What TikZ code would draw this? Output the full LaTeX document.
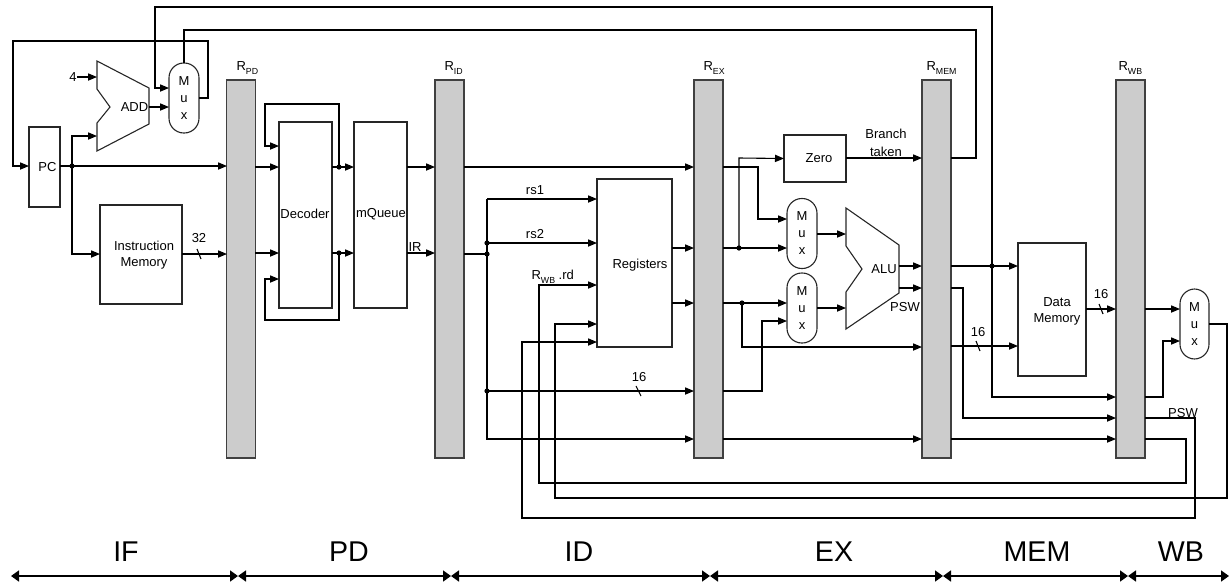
\documentclass[tikz,border=0pt]{standalone}
\usepackage{fontspec}
\setmainfont{Liberation Sans}
\usetikzlibrary{arrows.meta,calc}
\newcommand{\Rsub}[1]{R\raisebox{-2.4pt}{\fontsize{4.4}{5}\selectfont #1}}
\begin{document}
\begin{tikzpicture}[x=0.5pt,y=-0.5pt,
  every path/.style={line width=0.55pt},
  arr/.style={-{Triangle[length=4.5pt,width=3.6pt]}},
  box/.style={draw=black!85, line width=0.55pt, inner sep=0pt, outer sep=0pt},
  bar/.style={draw=black!75, fill=black!20, line width=0.55pt, minimum width=14.5pt, minimum height=189pt, inner sep=0pt, outer sep=0pt},
  mux/.style={box, rounded corners=7.4pt, minimum width=15pt, minimum height=35pt, align=center, font=\fontsize{6.5}{8.5}\selectfont},
  lbl/.style={font=\fontsize{6.5}{8}\selectfont, inner sep=0pt, align=center},
  rlbl/.style={font=\fontsize{6.5}{8}\selectfont, inner sep=0pt, anchor=base west},
  stage/.style={font=\fontsize{14.3}{16}\selectfont, inner sep=0pt},
  dot/.style={circle, fill=black, inner sep=0pt, minimum size=2.6pt},
  stagearr/.style={line width=0.8pt, {Triangle[length=4pt,width=5.5pt]}-{Triangle[length=4pt,width=5.5pt]}}
]
\useasboundingbox (0,0) rectangle (1232,585);

% ---------- pipeline registers ----------
\node[bar] (rpd)  at (241,269) {};
\node[bar] (rid)  at (449.5,269) {};
\node[bar] (rex)  at (708.5,269) {};
\node[bar] (rmem) at (936.5,269) {};
\node[bar] (rwb)  at (1130.5,269) {};
\node[rlbl] (lpd)  at (236,70)  {\Rsub{PD}};
\node[rlbl] (lid)  at (444,70)  {\Rsub{ID}};
\node[rlbl] (lex)  at (703,70)  {\Rsub{EX}};
\node[rlbl] (lmem) at (926,70)  {\Rsub{MEM}};
\node[rlbl] (lwb)  at (1118,70) {\Rsub{WB}};

% ---------- blocks ----------
\node[box, minimum width=15.5pt, minimum height=40pt] (pc) at (44.5,167) {};
\node[lbl] (pct) at (47.5,167) {PC};
\node[box, minimum width=41pt, minimum height=49.5pt] (im) at (141,254.5) {};
\node[lbl] (imt) at (144,255) {Instruction\\Memory};
\node[box, minimum width=26.5pt, minimum height=93pt] (dec) at (305.5,215) {};
\node[lbl] (dect) at (305,214) {Decoder};
\node[box, minimum width=26.5pt, minimum height=93pt] (mq) at (380.5,215) {};
\node[lbl] (mqt) at (381,214) {mQueue};
\node[box, minimum width=37.5pt, minimum height=84pt] (reg) at (634.5,263) {};
\node[lbl] (regt) at (640,265) {Registers};
\node[box, minimum width=31pt, minimum height=23.5pt] (zero) at (815,158.5) {};
\node[lbl] (zerot) at (819,158) {Zero};
\node[box, minimum width=34pt, minimum height=66.5pt] (dm) at (1052,309.5) {};
\node[lbl] (dmt) at (1057,311) {Data\\Memory};

\node[mux] (muxpc) at (184,98) {M\\u\\x};
\node[mux] (mux1) at (802,233.5) {M\\u\\x};
\node[mux] (mux2) at (802,308) {M\\u\\x};
\node[mux, minimum width=14.5pt] (muxwb) at (1194.5,324) {M\\u\\x};

% ADD and ALU
\draw[box] (97,61) -- (149,88) -- (149,124) -- (97,151) -- (97,123) -- (110,107) -- (97,89) -- cycle;
\node[lbl] (addt) at (134.5,107) {ADD};
\draw[box] (846,208) -- (899,245) -- (899,293) -- (846,329) -- (846,292) -- (862,269) -- (846,246) -- cycle;
\node[lbl] (alut) at (884,269) {ALU};

% ---------- IF ----------
\node[dot] (d992) at (992,266) {};
\draw[arr] (951,266) -- (1018,266);
\draw[arr] (d992.center) -- (992,7) -- (155,7) -- (155,88) -- (169,88);
\draw[arr] (d992.center) -- (992,397) -- (1116,397);
\draw (951,158) -- (976,158) -- (976,30) -- (184,30) -- (muxpc.north);
\draw[arr] (199,98) -- (208,98) -- (208,41) -- (13,41) -- (13,166) -- (29,166);
\node[lbl] (four) at (73,77) {4};
\draw[arr] (77,77) -- (97,77);
\draw[arr] (149,107) -- (169,107);
\draw[arr] (60,166) -- (227,166);
\node[dot] (dpc) at (72,166) {};
\draw[arr] (dpc.center) -- (72,136) -- (97,136);
\draw[arr] (dpc.center) -- (72,254) -- (100,254);
\draw[arr] (182,254) -- (227,254);
\draw (197,249) -- (201,259);
\node[lbl] (l32) at (199,238) {32};

% ---------- PD ----------
\draw[arr] (255,167) -- (279,167);
\draw[arr] (255,253) -- (279,253);
\draw[arr] (332,167) -- (354,167);
\draw[arr] (332,253) -- (354,253);
\node[dot] (dd1) at (339,167) {};
\node[dot] (dd2) at (339,253) {};
\draw[arr] (dd1.center) -- (339,104) -- (265,104) -- (265,146) -- (279,146);
\draw[arr] (dd2.center) -- (339,320) -- (265,320) -- (265,279) -- (279,279);
\draw[arr] (407,167) -- (435,167);
\draw[arr] (407,253) -- (435,253);
\node[lbl] (lir) at (415,247) {IR};

% ---------- ID ----------
\draw[arr] (464,167) -- (694,167);
\draw (464,254) -- (487,254);
\node[dot] (di1) at (487,254) {};
\node[dot] (di2) at (487,243) {};
\node[dot] (di3) at (487,391) {};
\draw[arr] (487,199) -- (487,439) -- (694,439);
\draw[arr] (487,199) -- (597,199);
\draw[arr] (di2.center) -- (597,243);
\draw[arr] (di3.center) -- (694,391);
\draw (636,386) -- (641,396);
\node[lbl] (l16a) at (639,377) {16};
\node[lbl] (lrs1) at (535,190) {rs1};
\node[lbl] (lrs2) at (535,234) {rs2};
\node[rlbl] (lrd) at (531,279) {\Rsub{WB} .rd};
\draw[arr] (672,248) -- (694,248);
\draw[arr] (672,303) -- (694,303);

% write-back feedback
\draw[arr] (1145,439) -- (1186,439) -- (1186,483) -- (539,483) -- (539,285) -- (597,285);
\draw[arr] (muxwb.east) -- (1227,324) -- (1227,498) -- (555,498) -- (555,324) -- (597,324);
\draw[arr] (1145,418) -- (1195,418) -- (1195,518) -- (522,518) -- (522,342) -- (597,342);
\node[lbl] (lpsw2) at (1183,413) {PSW};

% ---------- EX ----------
\draw[arr] (723,167) -- (758,167) -- (758,219) -- (787,219);
\draw[arr] (723,248) -- (787,248);
\node[dot] (de1) at (739,248) {};
\draw[arr] (de1.center) -- (739,158) -- (zero.west);
\draw[arr] (723,303) -- (787,303);
\node[dot] (de2) at (742,303) {};
\draw[arr] (de2.center) -- (742,347) -- (922,347);
\draw[arr] (723,391) -- (762,391) -- (762,321) -- (787,321);
\draw[arr] (817,234) -- (846,234);
\draw[arr] (817,308) -- (846,308);
\draw[arr] (899,266) -- (922,266);
\draw[arr] (899,288) -- (922,288);
\node[lbl] (lpsw1) at (905,307) {PSW};
\draw[arr] (846,158) -- (922,158);
\node[lbl, font=\fontsize{6.5}{9}\selectfont] (lbr) at (886,143) {Branch\\taken};
\draw[arr] (723,439) -- (922,439);

% ---------- MEM ----------
\draw[arr] (951,288) -- (963,288) -- (963,418) -- (1116,418);
\draw[arr] (951,346) -- (1018,346);
\draw (976,341) -- (980,351);
\node[lbl] (l16b) at (978,332) {16};
\draw[arr] (1086,309) -- (1116,309);
\draw (1099,304) -- (1103,314);
\node[lbl] (l16c) at (1101,294) {16};
\draw[arr] (951,439) -- (1116,439);

% ---------- WB ----------
\draw[arr] (1145,309) -- (1180,309);
\draw[arr] (1145,397) -- (1163,397) -- (1163,341) -- (1180,341);

% ---------- stages ----------
\coordinate (s0) at (11,576);
\coordinate (s1) at (238,576);
\coordinate (s2) at (451,576);
\coordinate (s3) at (710,576);
\coordinate (s4) at (943,576);
\coordinate (s5) at (1128,576);
\coordinate (s6) at (1229,576);
\draw[stagearr] (s0) -- (s1);
\draw[stagearr] (s1) -- (s2);
\draw[stagearr] (s2) -- (s3);
\draw[stagearr] (s3) -- (s4);
\draw[stagearr] (s4) -- (s5);
\draw[stagearr] (s5) -- (s6);
\node[stage] (tif)  at (126,552)  {IF};
\node[stage] (tpd)  at (349,552)  {PD};
\node[stage] (tid)  at (579,552)  {ID};
\node[stage] (tex)  at (834,552)  {EX};
\node[stage] (tmem) at (1037,552) {MEM};
\node[stage] (twb)  at (1181,552) {WB};
\end{tikzpicture}
\end{document}
